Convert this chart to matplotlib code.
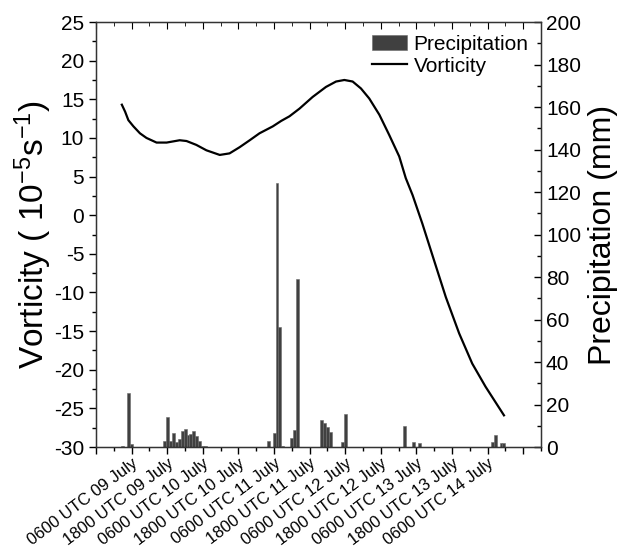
import numpy as np
import matplotlib
matplotlib.use("Agg")
import matplotlib.pyplot as plt
from matplotlib.ticker import MultipleLocator, FixedLocator, FixedFormatter

# hours counted from 0000 UTC 09 July
vort_hours = [2.7, 3.8, 4.9, 6.6, 8.8, 11.0, 14.4, 17.8, 22.2, 24.5, 27.8,
              31.2, 35.7, 39.0, 42.4, 45.8, 49.1, 53.6, 56.4, 59.2, 62.6,
              67.0, 71.5, 74.9, 77.7, 80.5, 83.3, 86.1, 89.5, 92.8, 96.2,
              98.4, 100.7, 104.0, 107.9, 111.9, 116.4, 120.8, 125.3, 131.5]
vorticity = [14.3, 13.4, 12.3, 11.5, 10.6, 10.0, 9.4, 9.4, 9.7, 9.6, 9.1,
             8.4, 7.8, 8.0, 8.8, 9.7, 10.6, 11.5, 12.2, 12.8, 13.8, 15.3,
             16.6, 17.3, 17.5, 17.3, 16.4, 15.1, 13.0, 10.4, 7.6, 4.8, 2.6,
             -1.1, -5.8, -10.6, -15.3, -19.2, -22.2, -25.9]

rain_hours = [3, 5, 6, 17, 18, 19, 20, 21, 22, 23, 24, 25, 26, 27, 28, 29,
              30, 31, 52, 54, 55, 56, 57, 60, 61, 62, 70, 71, 72, 73, 77, 78,
              98, 101, 103, 127.5, 128.5, 130.5, 131.5]
rain = [0.6, 25.6, 1.3, 2.7, 14.0, 2.8, 6.5, 2.2, 3.6, 7.5, 8.5, 5.6, 6.1,
        7.5, 5.2, 3.0, 0.5, 0.3, 2.9, 6.4, 124.1, 56.3, 0.6, 4.1, 8.0, 79.0,
        12.7, 11.1, 9.6, 7.2, 2.2, 15.4, 10.0, 2.2, 1.7, 2.2, 5.6, 1.7, 1.7]

tick_hours = [-6, 6, 18, 30, 42, 54, 66, 78, 90, 102, 114, 126, 138]
tick_labels = ["", "0600 UTC 09 July", "1800 UTC 09 July", "0600 UTC 10 July",
               "1800 UTC 10 July", "0600 UTC 11 July", "1800 UTC 11 July",
               "0600 UTC 12 July", "1800 UTC 12 July", "0600 UTC 13 July",
               "1800 UTC 13 July", "0600 UTC 14 July", ""]

plt.rcParams['font.family'] = 'Liberation Sans'
plt.rcParams['mathtext.fontset'] = 'custom'
plt.rcParams['mathtext.rm'] = 'Liberation Sans'
plt.rcParams['mathtext.default'] = 'regular'
plt.rcParams['axes.unicode_minus'] = False


def main():
	fig = plt.figure(figsize=(6.26, 5.48), dpi=100)
	ax = fig.add_axes([0.1534, 0.1843, 0.7109, 0.7755])
	ax2 = ax.twinx()

	# precipitation bars on the right axis
	bars = ax2.bar(rain_hours, rain, width=1.0, color='#404040',
				   edgecolor='#6a6a6a', linewidth=0.4, label='Precipitation')
	ax2.set_ylim(0, 200)
	ax2.yaxis.set_major_locator(MultipleLocator(20))
	ax2.yaxis.set_minor_locator(MultipleLocator(10))
	ax2.set_ylabel("Precipitation (mm)", fontsize=23, labelpad=5)

	# vorticity line on the left axis, drawn above the bars
	ax.set_zorder(ax2.get_zorder() + 1)
	ax.patch.set_visible(False)
	line, = ax.plot(vort_hours, vorticity, color='black', lw=1.6, label='Vorticity')
	ax.set_ylim(-30, 25)
	ax.yaxis.set_major_locator(MultipleLocator(5))
	ax.yaxis.set_minor_locator(MultipleLocator(2.5))
	ax.set_ylabel("Vorticity ( 10$^{-5}$s$^{-1}$)", fontsize=24, labelpad=0)

	ax.set_xlim(-6, 144)
	ax.xaxis.set_major_locator(FixedLocator(tick_hours))
	ax.xaxis.set_major_formatter(FixedFormatter(tick_labels))
	ax.xaxis.set_minor_locator(MultipleLocator(6))

	ax.tick_params(axis='both', which='both', direction='out', width=1)
	ax.tick_params(axis='y', labelsize=15)
	ax.tick_params(axis='x', labelsize=12, pad=1)
	ax.tick_params(which='major', length=5)
	ax.tick_params(which='minor', length=3)
	plt.setp(ax.get_xticklabels(), rotation=37, ha='right', rotation_mode='anchor')

	# mirrored ticks on top and right point inward
	ax2.xaxis.set_visible(True)
	ax2.tick_params(axis='x', which='both', bottom=False, top=True,
					labelbottom=False, labeltop=False, direction='in')
	ax2.tick_params(axis='y', which='both', direction='in', labelsize=15, width=1)
	ax2.tick_params(which='major', length=5)
	ax2.tick_params(which='minor', length=3)

	for sp in ax.spines.values():
		sp.set_linewidth(1)
		sp.set_color('#333333')

	ax.legend([bars, line], ['Precipitation', 'Vorticity'], loc='upper right',
			  bbox_to_anchor=(1.0, 1.0), frameon=False, fontsize=15,
			  handlelength=1.7, handletextpad=0.3, labelspacing=0.15,
			  borderaxespad=0.2)

	fig.savefig("out.png", dpi=100)


if __name__ == '__main__':
	main()
